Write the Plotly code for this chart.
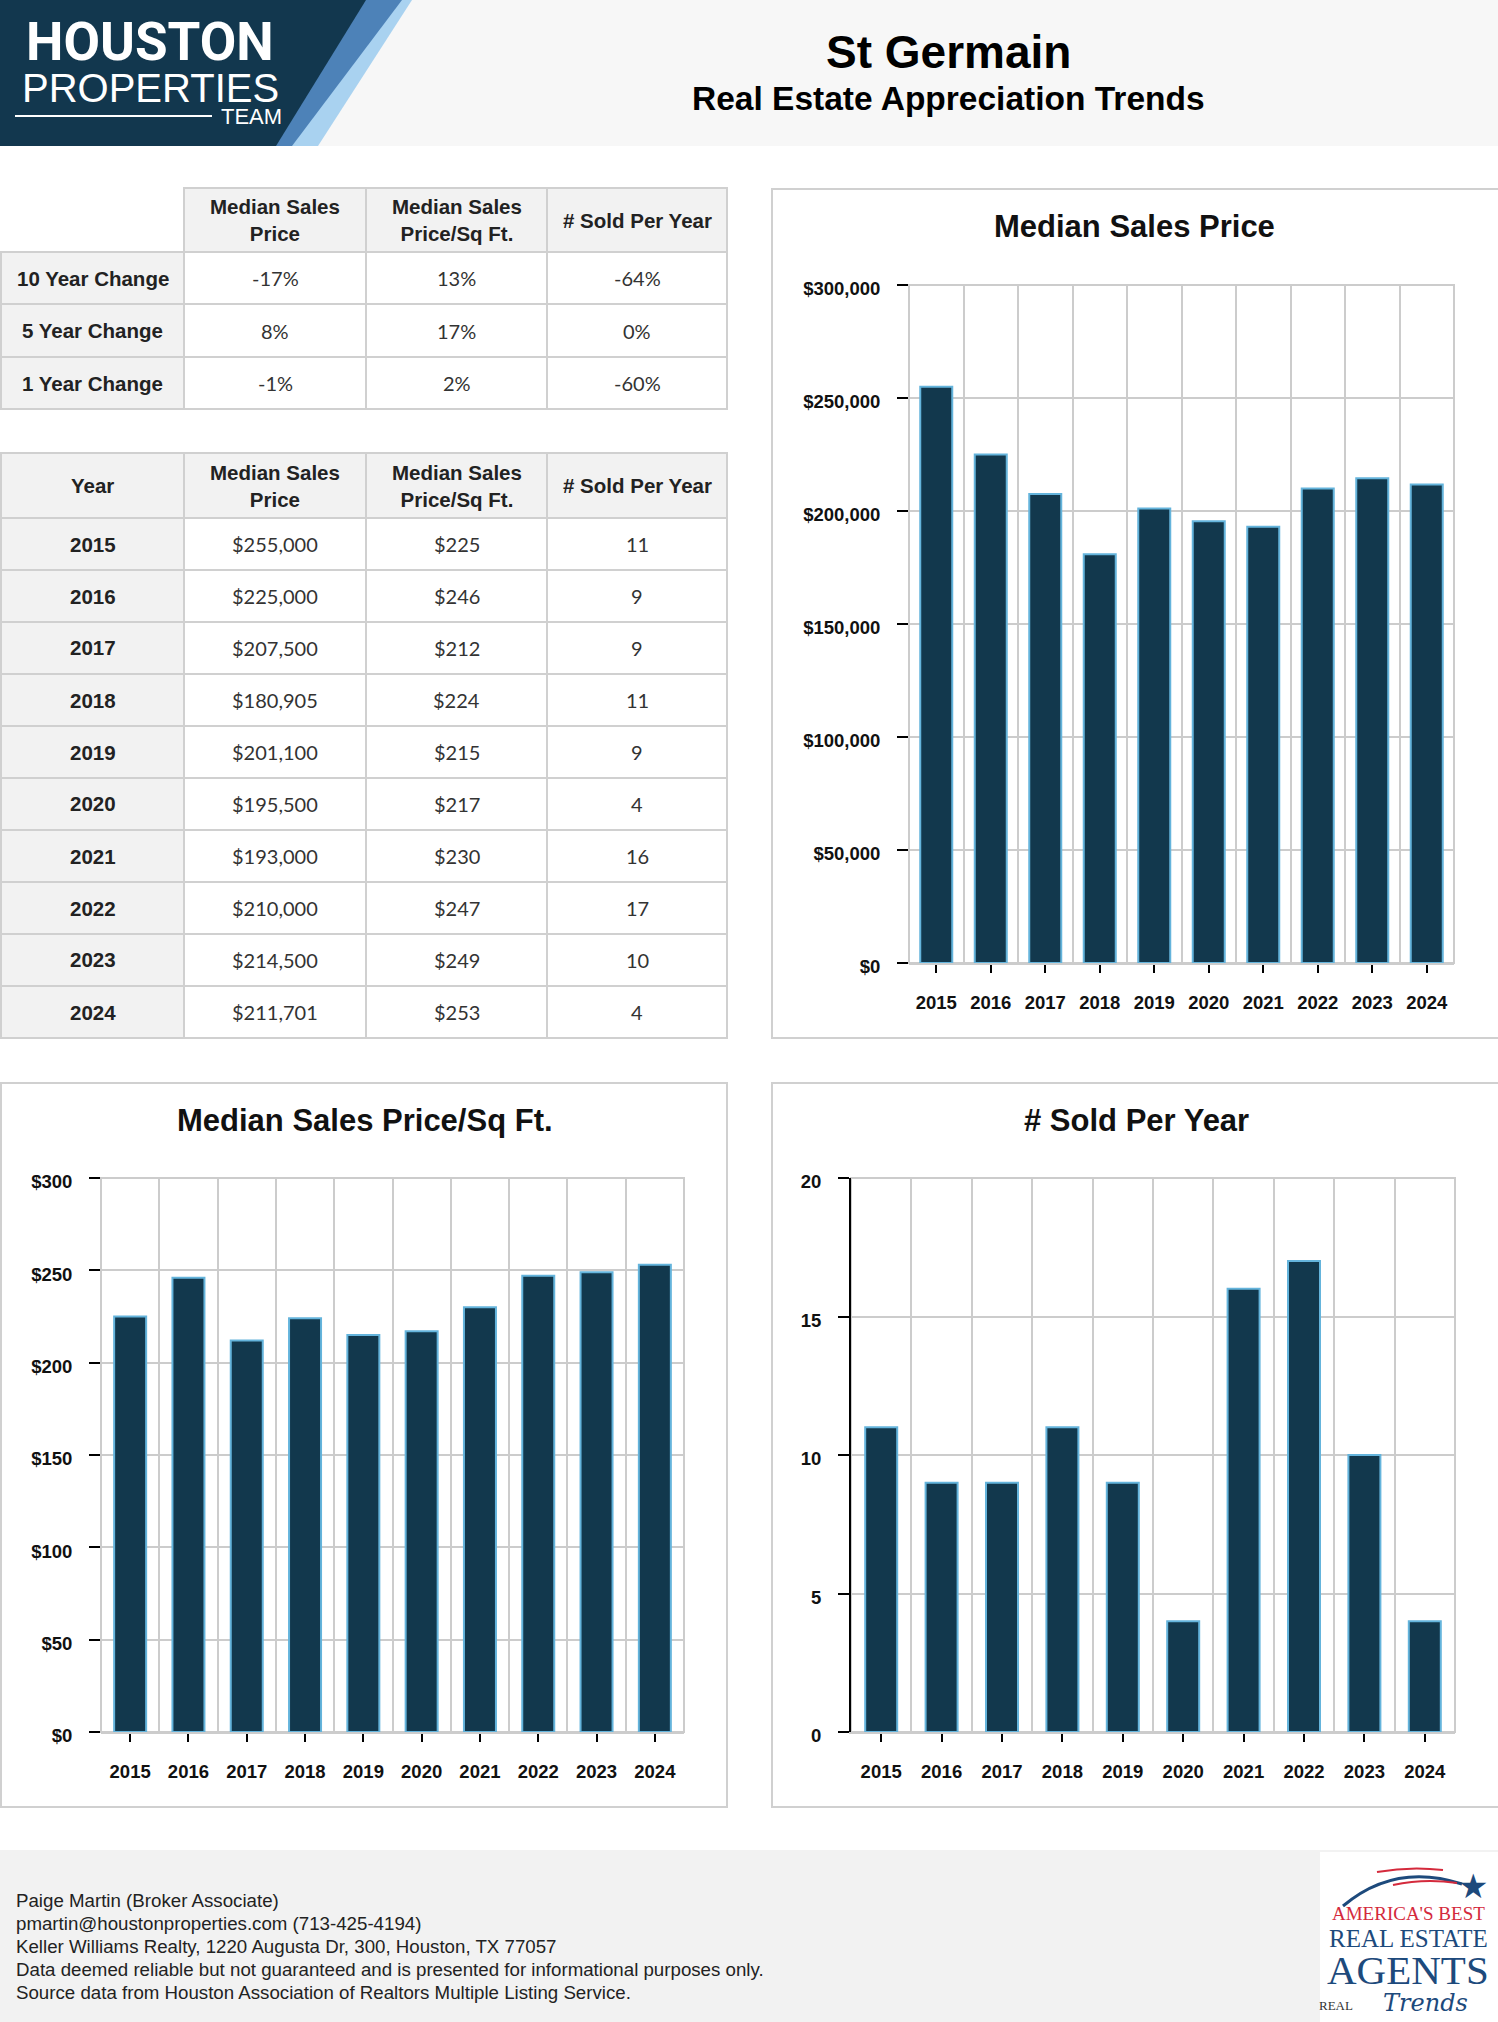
import plotly.graph_objects as go

W, H = 1498, 2022

# ---------------- data ----------------
years = ["2015", "2016", "2017", "2018", "2019", "2020", "2021", "2022", "2023", "2024"]
median_price = [255000, 225000, 207500, 180905, 201100, 195500, 193000, 210000, 214500, 211701]
price_sqft = [225, 246, 212, 224, 215, 217, 230, 247, 249, 253]
sold_per_year = [11, 9, 9, 11, 9, 4, 16, 17, 10, 4]

change_labels = ["10 Year Change", "5 Year Change", "1 Year Change"]
change_price = ["-17%", "8%", "-1%"]
change_sqft = ["13%", "17%", "2%"]
change_sold = ["-64%", "0%", "-60%"]

col_headers = ["Median Sales<br>Price", "Median Sales<br>Price/Sq Ft.", "# Sold Per Year"]
year_header = "Year"

title = "St Germain"
subtitle = "Real Estate Appreciation Trends"
footer_lines = [
    "Paige Martin (Broker Associate)",
    "pmartin@houstonproperties.com (713-425-4194)",
    "Keller Williams Realty, 1220 Augusta Dr, 300, Houston, TX 77057",
    "Data deemed reliable but not guaranteed and is presented for informational purposes only.",
    "Source data from Houston Association of Realtors Multiple Listing Service.",
]

# ---------------- styles ----------------
BAR = "#12384d"
BAR_EDGE = "#64b4dc"
GRID = "#cccccc"
BORDER = "#d0d0d0"
HEAD_BG = "#f2f2f2"
SANS = "Liberation Sans, Arial, sans-serif"
LATO = "Lato, sans-serif"


def px(x):
    return min(max(x, 0), W) / W


def py(y):
    return 1 - min(max(y, 0), H) / H


fig = go.Figure()
shapes = []
annotations = []


def rect(x0, y0, x1, y1, fill=None, line=None, lw=2, layer="below"):
    d = dict(type="rect", xref="paper", yref="paper",
             x0=px(x0), x1=px(x1), y0=py(y1), y1=py(y0), layer=layer,
             line=dict(color=line if line else "rgba(0,0,0,0)", width=lw if line else 0))
    if fill:
        d["fillcolor"] = fill
    shapes.append(d)


def text(x, y, s, size, color="#222", family=SANS, bold=False, xanchor="center", italic=False):
    f = dict(family=family, size=size, color=color)
    if bold:
        f["weight"] = "bold"
    if italic:
        f["style"] = "italic"
    annotations.append(dict(x=px(x), y=py(y), xref="paper", yref="paper", text=s,
                            showarrow=False, xanchor=xanchor, yanchor="middle",
                            font=f, align="center"))


def path(pts, fill=None, line=None, lw=0, closed=True, layer="below"):
    p = "M " + " L ".join(f"{px(a):.5f},{py(b):.5f}" for a, b in pts)
    if closed:
        p += " Z"
    d = dict(type="path", path=p, xref="paper", yref="paper", layer=layer,
             line=dict(color=line if line else "rgba(0,0,0,0)", width=lw))
    if fill:
        d["fillcolor"] = fill
    shapes.append(d)


# ---------------- header ----------------
rect(0, 0, W, 146, fill="#f7f7f7")
path([(0, 0), (412, 0), (318, 146), (0, 146)], fill="#a9d2f0")
path([(0, 0), (402, 0), (292, 146), (0, 146)], fill="#4d82b8")
path([(0, 0), (366, 0), (276, 146), (0, 146)], fill="#12374e")
text(150, 42, "HOUSTON", 53, color="white", family="Roboto, sans-serif", bold=True)
text(150, 88, "PROPERTIES", 40, color="white", family=SANS)
text(284, 117, "TEAM", 22, color="white", family=SANS, xanchor="right")
shapes.append(dict(type="line", xref="paper", yref="paper", x0=px(15), x1=px(212),
                   y0=py(116), y1=py(116), line=dict(color="white", width=2), layer="below"))
text(948, 52, title, 46, color="#000", bold=True)
text(948, 99, subtitle, 33.5, color="#000", bold=True)

# ---------------- tables ----------------
col_x = [1, 184, 366, 547, 727]
t1_rows = [188, 252, 304, 357, 409]

for c in range(3):
    rect(col_x[c + 1], t1_rows[0], col_x[c + 2], t1_rows[1], fill=HEAD_BG, line=BORDER)
    text((col_x[c + 1] + col_x[c + 2]) / 2, (t1_rows[0] + t1_rows[1]) / 2, col_headers[c], 20.5, bold=True)
change_cols = [change_price, change_sqft, change_sold]
for r, lab in enumerate(change_labels):
    y0, y1 = t1_rows[r + 1], t1_rows[r + 2]
    rect(col_x[0], y0, col_x[1], y1, fill=HEAD_BG, line=BORDER)
    text((col_x[0] + col_x[1]) / 2, (y0 + y1) / 2, lab, 20.5, bold=True)
    for c in range(3):
        rect(col_x[c + 1], y0, col_x[c + 2], y1, fill="white", line=BORDER)
        text((col_x[c + 1] + col_x[c + 2]) / 2, (y0 + y1) / 2, change_cols[c][r], 20,
             family=LATO, color="#333")

t2_top, t2_head, row_h = 453, 518, 52
rect(col_x[0], t2_top, col_x[1], t2_head, fill=HEAD_BG, line=BORDER)
text((col_x[0] + col_x[1]) / 2, (t2_top + t2_head) / 2, year_header, 20.5, bold=True)
for c in range(3):
    rect(col_x[c + 1], t2_top, col_x[c + 2], t2_head, fill=HEAD_BG, line=BORDER)
    text((col_x[c + 1] + col_x[c + 2]) / 2, (t2_top + t2_head) / 2, col_headers[c], 20.5, bold=True)
vals_fmt = [
    [f"${v:,}" for v in median_price],
    [f"${v:,}" for v in price_sqft],
    [f"{v}" for v in sold_per_year],
]
for r, yr in enumerate(years):
    y0 = t2_head + r * row_h
    y1 = y0 + row_h
    rect(col_x[0], y0, col_x[1], y1, fill=HEAD_BG, line=BORDER)
    text((col_x[0] + col_x[1]) / 2, (y0 + y1) / 2, yr, 20.5, bold=True)
    for c in range(3):
        rect(col_x[c + 1], y0, col_x[c + 2], y1, fill="white", line=BORDER)
        text((col_x[c + 1] + col_x[c + 2]) / 2, (y0 + y1) / 2, vals_fmt[c][r], 20,
             family=LATO, color="#333")

# ---------------- chart panels ----------------
path([(W, 189), (772, 189), (772, 1038), (W, 1038)], line=BORDER, lw=2, closed=False)
rect(1, 1083, 727, 1807, line=BORDER)
path([(W, 1083), (772, 1083), (772, 1807), (W, 1807)], line=BORDER, lw=2, closed=False)

charts = [
    dict(vals=median_price, ax="", xdom=(909, 1454), ydom=(285, 963), rng=[0, 300000], dtick=50000,
         prefix="$", fmt=",", name="Median Sales Price", tpos=(1134, 226), black=False),
    dict(vals=price_sqft, ax="2", xdom=(101, 684), ydom=(1178, 1732), rng=[0, 300], dtick=50,
         prefix="$", fmt=",", name="Median Sales Price/Sq Ft.", tpos=(365, 1120), black=False),
    dict(vals=sold_per_year, ax="3", xdom=(851, 1455), ydom=(1178, 1732), rng=[0, 20], dtick=5,
         prefix="", fmt="d", name="# Sold Per Year", tpos=(1136, 1120), black=True),
]

idx = list(range(len(years)))
bounds = [i - 0.5 for i in range(len(years) + 1)]
layout_axes = {}
for ch in charts:
    a = ch["ax"]
    xname, yname = "x" + a, "y" + a
    cat_px = (ch["xdom"][1] - ch["xdom"][0]) / len(years)
    fig.add_trace(go.Bar(
        x=idx, y=ch["vals"], xaxis=xname, yaxis=yname, width=32 / cat_px,
        marker=dict(color=BAR, line=dict(color=BAR_EDGE, width=2)),
        showlegend=False, hoverinfo="skip"))
    tickfont = dict(family=SANS, size=18.5, color="#111", weight="bold")
    layout_axes["xaxis" + a] = dict(
        domain=[px(ch["xdom"][0]), px(ch["xdom"][1])], anchor=yname,
        range=[-0.5, len(years) - 0.5], tickmode="array", tickvals=idx, ticktext=years,
        ticks="outside", ticklen=8, tickwidth=2, tickcolor="#000",
        showgrid=False, zeroline=False, showline=True, linecolor=GRID, linewidth=2,
        tickfont=tickfont, ticklabelstandoff=14, fixedrange=True, automargin=False,
        minor=dict(tickmode="array", tickvals=bounds, showgrid=True, gridcolor=GRID,
                   gridwidth=2, ticks=""))
    layout_axes["yaxis" + a] = dict(
        domain=[py(ch["ydom"][1]), py(ch["ydom"][0])], anchor=xname,
        range=ch["rng"], tick0=0, dtick=ch["dtick"], tickprefix=ch["prefix"], tickformat=ch["fmt"],
        showgrid=True, gridcolor=GRID, gridwidth=2, zeroline=False,
        ticks="outside", ticklen=11, tickwidth=2, tickcolor="#000",
        showline=ch["black"], linecolor="#000", linewidth=2,
        tickfont=tickfont, ticklabelstandoff=13, ticklabelshift=4,
        fixedrange=True, automargin=False)
    shapes.append(dict(type="rect", xref=f"x{a} domain", yref=f"y{a} domain",
                       x0=0, x1=1, y0=0, y1=1, line=dict(color=GRID, width=2), layer="below"))
    text(ch["tpos"][0], ch["tpos"][1], ch["name"], 31, color="#111", bold=True)

# ---------------- footer ----------------
rect(0, 1850, W, H, fill="#f2f2f2")
for i, ln in enumerate(footer_lines):
    text(14, 1900 + i * 23.2, ln, 18.7, color="#222", xanchor="left")

# footer badge
rect(1320, 1852, W, H, fill="white")
shapes.append(dict(type="path", xref="paper", yref="paper", layer="below",
                   path=f"M {px(1343)},{py(1906)} Q {px(1395)},{py(1862)} {px(1462)},{py(1884)}",
                   line=dict(color="#1d4a7c", width=3)))
shapes.append(dict(type="path", xref="paper", yref="paper", layer="below",
                   path=f"M {px(1377)},{py(1872)} Q {px(1410)},{py(1866)} {px(1443)},{py(1870)}",
                   line=dict(color="#d42a3c", width=2)))
shapes.append(dict(type="path", xref="paper", yref="paper", layer="below",
                   path=f"M {px(1393)},{py(1885)} Q {px(1425)},{py(1878)} {px(1457)},{py(1883)}",
                   line=dict(color="#d42a3c", width=2)))
text(1473, 1886, "★", 34, color="#1d4a7c", family="DejaVu Sans")
text(1408, 1913, "AMERICA'S BEST", 19, color="#d42a3c", family="Liberation Serif, serif")
text(1408, 1938, "REAL ESTATE", 25, color="#1d4a7c", family="Liberation Serif, serif")
text(1408, 1970, "AGENTS", 41, color="#1d4a7c", family="Liberation Serif, serif")
text(1336, 2005, "REAL", 13, color="#333", family="Liberation Serif, serif")
text(1425, 2003, "Trends", 24, color="#1d4a7c", family="DejaVu Serif, serif", italic=True)

fig.update_layout(
    width=W, height=H, margin=dict(l=0, r=0, t=0, b=0, pad=0, autoexpand=False),
    paper_bgcolor="white", plot_bgcolor="rgba(0,0,0,0)",
    shapes=shapes, annotations=annotations, showlegend=False,
    **layout_axes)

fig.write_html(
    "out.html",
    config={"displayModeBar": False},
    post_script=(
        "document.body.style.margin='0';document.body.style.padding='0';"
        "var d=document.getElementById('{plot_id}');"
        "d.style.position='fixed';d.style.top='0px';d.style.left='0px';"
    ),
)
